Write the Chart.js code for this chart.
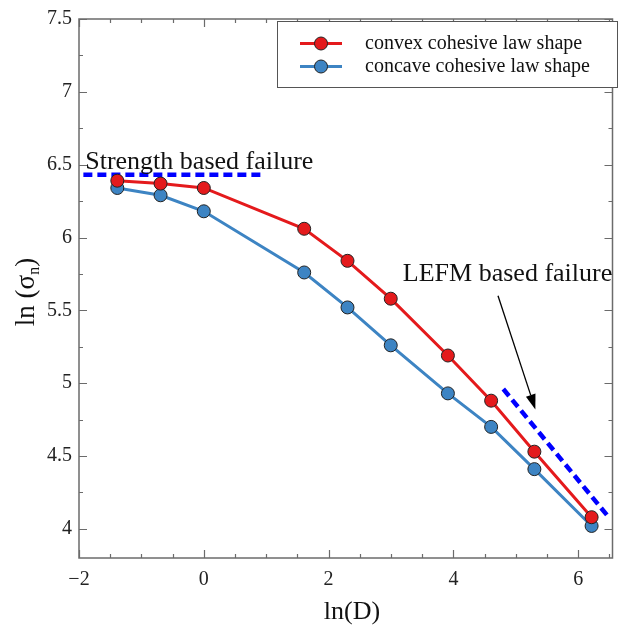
<!doctype html>
<html>
<head>
<script src="https://cdn.jsdelivr.net/npm/chart.js@4.4.1/dist/chart.umd.min.js"></script>
<style>body{margin:0;background:#fff}</style>
</head>
<body>
<div style="width:620px;height:629px"><canvas id="canvas"></canvas></div>
<script>
// ln(D) for D = 0.25, 0.5, 1, 5, 10, 20, 50, 100, 200, 500
const lnD = [-1.386, -0.693, 0, 1.609, 2.303, 2.996, 3.912, 4.605, 5.298, 6.215];
const convex = [6.39, 6.37, 6.34, 6.06, 5.84, 5.58, 5.19, 4.88, 4.53, 4.08];
const concave = [6.34, 6.29, 6.18, 5.76, 5.52, 5.26, 4.93, 4.70, 4.41, 4.02];
const seriesNames = ['convex cohesive law shape', 'concave cohesive law shape'];
const xTicks = [-2, 0, 2, 4, 6];
const yTicks = [4, 4.5, 5, 5.5, 6, 6.5, 7, 7.5];

// guide lines and notes, in data units
const strengthLine = [{x: -1.93, y: 6.43}, {x: 0.95, y: 6.43}];
const lefmLine = [{x: 4.8, y: 4.96}, {x: 6.47, y: 4.09}];
const arrowFrom = {x: 4.715, y: 5.60};
const arrowTo = {x: 5.314, y: 4.82};
const notes = [
  {text: 'Strength based failure', x: -1.90, y: 6.468},
  {text: 'LEFM based failure', x: 3.19, y: 5.70}
];

const RED = '#e41a1c', BLUE = '#3d84c3';
const serif = "'Liberation Serif', 'Times New Roman', serif";

const pts = (ys) => lnD.map((x, i) => ({x, y: ys[i]}));

const frame = {
  id: 'frame',
  beforeDatasetsDraw(chart) {
    const {ctx, chartArea: a, scales: {x, y}} = chart;
    ctx.save();
    ctx.strokeStyle = '#6b6b6b';
    ctx.lineWidth = 1.5;
    ctx.strokeRect(a.left, a.top, a.right - a.left, a.bottom - a.top);
    ctx.lineWidth = 1.2;
    ctx.beginPath();
    for (let v = -2; v <= 6.5; v += 0.5) {
      const px = Math.round(x.getPixelForValue(v)) + 0.5;
      const len = v % 2 === 0 ? 8 : 4;
      ctx.moveTo(px, a.bottom); ctx.lineTo(px, a.bottom - len);
      ctx.moveTo(px, a.top); ctx.lineTo(px, a.top + len);
    }
    for (let v = 4; v <= 7.5; v += 0.25) {
      const py = Math.round(y.getPixelForValue(v)) + 0.5;
      const len = (v * 2) % 1 === 0 ? 8 : 4;
      ctx.moveTo(a.left, py); ctx.lineTo(a.left + len, py);
      ctx.moveTo(a.right, py); ctx.lineTo(a.right - len, py);
    }
    ctx.stroke();
    ctx.restore();
  },
  afterDraw(chart) {
    const {ctx, chartArea: a, scales: {x, y}} = chart;
    ctx.save();
    ctx.fillStyle = '#111';
    // notes
    ctx.font = '26px ' + serif;
    ctx.textBaseline = 'alphabetic';
    notes.forEach(n => ctx.fillText(n.text, x.getPixelForValue(n.x), y.getPixelForValue(n.y)));

    // arrow
    const x0 = x.getPixelForValue(arrowFrom.x), y0 = y.getPixelForValue(arrowFrom.y);
    const x1 = x.getPixelForValue(arrowTo.x), y1 = y.getPixelForValue(arrowTo.y);
    const ang = Math.atan2(y1 - y0, x1 - x0);
    const hl = 15, hw = 5;
    ctx.strokeStyle = '#000';
    ctx.lineWidth = 1.3;
    ctx.beginPath();
    ctx.moveTo(x0, y0);
    ctx.lineTo(x1 - hl * Math.cos(ang), y1 - hl * Math.sin(ang));
    ctx.stroke();
    ctx.beginPath();
    ctx.moveTo(x1, y1);
    ctx.lineTo(x1 - hl * Math.cos(ang) + hw * Math.sin(ang), y1 - hl * Math.sin(ang) - hw * Math.cos(ang));
    ctx.lineTo(x1 - hl * Math.cos(ang) - hw * Math.sin(ang), y1 - hl * Math.sin(ang) + hw * Math.cos(ang));
    ctx.closePath();
    ctx.fillStyle = '#000';
    ctx.fill();

    // legend
    ctx.fillStyle = '#fff';
    ctx.fillRect(277.5, 21.5, 340, 66);
    ctx.strokeStyle = '#555';
    ctx.lineWidth = 1;
    ctx.strokeRect(277.5, 21.5, 340, 66);
    const cols = [RED, BLUE];
    [43.5, 66.5].forEach((ly, i) => {
      ctx.strokeStyle = cols[i];
      ctx.lineWidth = 3;
      ctx.beginPath(); ctx.moveTo(300, ly); ctx.lineTo(342, ly); ctx.stroke();
      ctx.beginPath(); ctx.arc(321, ly, 6.5, 0, Math.PI * 2);
      ctx.fillStyle = cols[i]; ctx.fill();
      ctx.strokeStyle = '#222'; ctx.lineWidth = 1; ctx.stroke();
      ctx.fillStyle = '#111';
      ctx.font = '20px ' + serif;
      ctx.textBaseline = 'middle';
      ctx.fillText(seriesNames[i], 365, ly);
    });

    // axis titles
    ctx.fillStyle = '#111';
    ctx.font = '26px ' + serif;
    ctx.textAlign = 'center';
    ctx.textBaseline = 'alphabetic';
    ctx.fillText('ln(D)', 352, 619);

    ctx.save();
    ctx.translate(34, 292);
    ctx.rotate(-Math.PI / 2);
    ctx.textAlign = 'left';
    const p1 = 'ln (σ', sub = 'n', p2 = ')';
    ctx.font = '27px ' + serif;
    const w1 = ctx.measureText(p1).width, w3 = ctx.measureText(p2).width;
    ctx.font = '16px ' + serif;
    const w2 = ctx.measureText(sub).width;
    let sx = -(w1 + w2 + w3) / 2;
    ctx.font = '27px ' + serif;
    ctx.fillText(p1, sx, 0); sx += w1;
    ctx.font = '16px ' + serif;
    ctx.fillText(sub, sx, 5); sx += w2;
    ctx.font = '27px ' + serif;
    ctx.fillText(p2, sx, 0);
    ctx.restore();
    ctx.restore();
  }
};

new Chart(document.getElementById('canvas').getContext('2d'), {
  type: 'scatter',
  data: {
    datasets: [
      {
        label: seriesNames[0], data: pts(convex), showLine: true,
        borderColor: RED, borderWidth: 3, backgroundColor: RED,
        pointBorderColor: '#222', pointBorderWidth: 1, pointRadius: 6.5
      },
      {
        label: seriesNames[1], data: pts(concave), showLine: true,
        borderColor: BLUE, borderWidth: 3, backgroundColor: BLUE,
        pointBorderColor: '#222', pointBorderWidth: 1, pointRadius: 6.5
      },
      {
        label: 'strength', data: strengthLine, showLine: true, pointRadius: 0,
        borderColor: '#0000ff', borderWidth: 4.5, borderDash: [9, 5]
      },
      {
        label: 'lefm', data: lefmLine, showLine: true, pointRadius: 0,
        borderColor: '#0000ff', borderWidth: 4.5, borderDash: [9, 5]
      }
    ]
  },
  options: {
    responsive: true,
    maintainAspectRatio: false,
    animation: false,
    events: [],
    layout: {padding: {left: 0, top: 13, right: 6, bottom: 0}},
    plugins: {legend: {display: false}, tooltip: {enabled: false}},
    scales: {
      x: {
        type: 'linear', min: -2, max: 6.55,
        grid: {display: false, drawTicks: false}, border: {display: false},
        afterFit: (s) => { s.height = 71; },
        afterBuildTicks: (s) => { s.ticks = xTicks.map(v => ({value: v})); },
        ticks: {
          padding: 10, color: '#222', font: {family: serif, size: 20},
          maxRotation: 0,
          callback: (v) => v < 0 ? '\u2212' + Math.abs(v) : String(v)
        }
      },
      y: {
        type: 'linear', min: 3.8, max: 7.5,
        grid: {display: false, drawTicks: false}, border: {display: false},
        afterFit: (s) => { s.width = 79; },
        afterBuildTicks: (s) => { s.ticks = yTicks.map(v => ({value: v})); },
        ticks: {
          padding: 7, color: '#222', font: {family: serif, size: 20},
          callback: (v) => String(v)
        }
      }
    }
  },
  plugins: [frame]
});
</script>
</body>
</html>
